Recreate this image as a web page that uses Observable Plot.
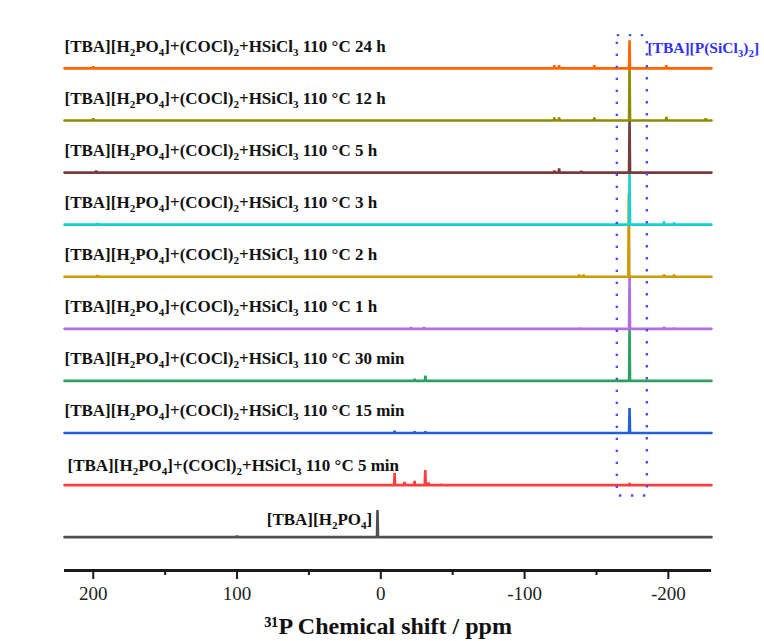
<!DOCTYPE html>
<html><head><meta charset="utf-8">
<script src="https://cdn.jsdelivr.net/npm/d3@7"></script>
<script src="https://cdn.jsdelivr.net/npm/@observablehq/plot@0.6"></script>
<style>body{margin:0;background:#fff} #chart svg{display:block}</style>
</head><body><div id="chart"></div>
<script>
// stack order, bottom to top
const seriesKeys = ["TBA", "5 min", "15 min", "30 min", "1 h", "2 h", "3 h", "5 h", "12 h", "24 h"];
const seriesLabels = [
  "[TBA][H_2PO_4]",
  "[TBA][H_2PO_4]+(COCl)_2+HSiCl_3 110 °C 5 min",
  "[TBA][H_2PO_4]+(COCl)_2+HSiCl_3 110 °C 15 min",
  "[TBA][H_2PO_4]+(COCl)_2+HSiCl_3 110 °C 30 min",
  "[TBA][H_2PO_4]+(COCl)_2+HSiCl_3 110 °C 1 h",
  "[TBA][H_2PO_4]+(COCl)_2+HSiCl_3 110 °C 2 h",
  "[TBA][H_2PO_4]+(COCl)_2+HSiCl_3 110 °C 3 h",
  "[TBA][H_2PO_4]+(COCl)_2+HSiCl_3 110 °C 5 h",
  "[TBA][H_2PO_4]+(COCl)_2+HSiCl_3 110 °C 12 h",
  "[TBA][H_2PO_4]+(COCl)_2+HSiCl_3 110 °C 24 h"
];
const seriesColors = ["#505050", "#ff3d3d", "#1f5fd8", "#2f9e62", "#b36de2", "#cc9900", "#1ccfcf", "#763c3c", "#8c8c00", "#ff6600"];
// peak positions (ppm) and intensities (in stack-step units)
const peakShifts = [
  [100, 2.3],
  [-9.6, -16.5, -23.5, -30.9, -33.2, -42, -173],
  [-9.6, -23.5, -31, -173],
  [-23.5, -31, -173],
  [-21, -30, -139, -173, -197, -204],
  [197, -138, -141, -172.5, -197, -204],
  [197, -173, -197, -204],
  [198, -120.7, -124, -139.5, -173],
  [200, -120.7, -124, -148.5, -173, -198.6, -226],
  [200, -120.7, -124, -148.5, -173, -198.6]
];
const peakHeights = [
  [0.03, 0.52],
  [0.23, 0.06, 0.08, 0.29, 0.05, 0.02, 0.04],
  [0.04, 0.03, 0.03, 0.48],
  [0.04, 0.1, 1.0],
  [0.03, 0.03, 0.02, 1.0, 0.04, 0.02],
  [0.03, 0.04, 0.04, 1.6, 0.04, 0.04],
  [0.03, 1.0, 0.06, 0.04],
  [0.04, 0.04, 0.08, 0.03, 1.02],
  [0.04, 0.06, 0.06, 0.06, 1.05, 0.07, 0.04],
  [0.04, 0.06, 0.06, 0.06, 0.54, 0.06]
];
const ppmDomain = [220, -230];
const majorTicks = [200, 100, 0, -100, -200];
const minorTicks = [150, 50, -50, -150];
const xTitle = "³¹P Chemical shift / ppm";
const boxLabel = "[TBA][P(SiCl_3)_2]";
const boxShift = [-164.5, -185.4];
const boxLevels = [0.79, 9.63];
const yDomain = [-0.64, 9.92];

const ns = "http://www.w3.org/2000/svg";
const serif = "'Liberation Serif', 'Times New Roman', serif";
function spectrum(i) {
  const pts = [{ppm: ppmDomain[0], y: i}];
  const pk = peakShifts[i].map((p, j) => [p, peakHeights[i][j]]).sort((a, b) => b[0] - a[0]);
  for (const [p, h] of pk) {
    pts.push({ppm: p + 0.35, y: i}, {ppm: p, y: i + h}, {ppm: p - 0.35, y: i});
  }
  pts.push({ppm: ppmDomain[1], y: i});
  return pts;
}

const lineMarks = seriesKeys.map((k, i) => Plot.line(spectrum(i), {
  x: "ppm", y: "y", stroke: seriesColors[i], strokeWidth: 2.6, strokeLinejoin: "miter"
}));

const labelRows = seriesLabels.map((t, i) => ({label: t, level: i})).filter(d => d.level > 0);
const labelStyle = {fontSize: 17, fontWeight: "bold", fill: "#111", fontFamily: serif};

const plot = Plot.plot({
  width: 764, height: 641,
  marginLeft: 64, marginRight: 53, marginTop: 20, marginBottom: 71,
  style: {fontFamily: serif, background: "#fff", color: "#222"},
  x: {domain: ppmDomain},
  y: {domain: yDomain, axis: null},
  marks: [
    ...lineMarks,
    Plot.rect([{a: boxShift[0], b: boxShift[1], c: boxLevels[0], d: boxLevels[1]}], {
      x1: "a", x2: "b", y1: "c", y2: "d", fill: "none", stroke: "#4a4aff", strokeWidth: 2.4, strokeDasharray: "2.4,9.6"
    }),
    Plot.text(labelRows.filter(d => d.level !== 1), {x: ppmDomain[0], y: "level", text: "label", textAnchor: "start", dy: -22, ...labelStyle}),
    Plot.text(labelRows.filter(d => d.level === 1), {x: ppmDomain[0], y: "level", text: "label", textAnchor: "start", dx: 3, dy: -20, ...labelStyle}),
    Plot.text([seriesLabels[0]], {x: 6, y: 0, text: d => d, textAnchor: "end", dy: -18, ...labelStyle}),
    Plot.text([boxLabel], {x: boxShift[1], y: 9.40, text: d => d, textAnchor: "start", ...labelStyle, fontSize: 15.5, fill: "#2f2fff"}),
    Plot.ruleY([yDomain[0]], {stroke: "#1a1a1a", strokeWidth: 3}),
    Plot.axisX({ticks: majorTicks, tickSize: 9, tickPadding: 7, fontSize: 19, fontFamily: serif, strokeWidth: 2, stroke: "#1a1a1a", fill: "#222",
      tickFormat: d => d < 0 ? "-" + (-d) : String(d), label: null}),
    Plot.axisX({ticks: minorTicks, tickSize: 5, strokeWidth: 2, stroke: "#1a1a1a", tickFormat: () => "", label: null}),
    Plot.text([xTitle], {frameAnchor: "bottom", dy: 63, text: d => d, fontSize: 24, fontWeight: "bold", fill: "#111", fontFamily: serif})
  ]
});

plot.querySelectorAll("text").forEach(t => {
  const s = t.textContent;
  if (!s.includes("_")) return;
  const parts = s.split(/_(\d)/);
  while (t.firstChild) t.removeChild(t.firstChild);
  parts.forEach((p, j) => {
    if (!p) return;
    const ts = document.createElementNS(ns, "tspan");
    ts.textContent = p;
    if (j % 2 === 1) { ts.setAttribute("font-size", "11"); ts.setAttribute("dy", "4"); }
    else if (j > 0) { ts.setAttribute("dy", "-4"); }
    t.appendChild(ts);
  });
});
document.getElementById("chart").appendChild(plot);
</script></body></html>
